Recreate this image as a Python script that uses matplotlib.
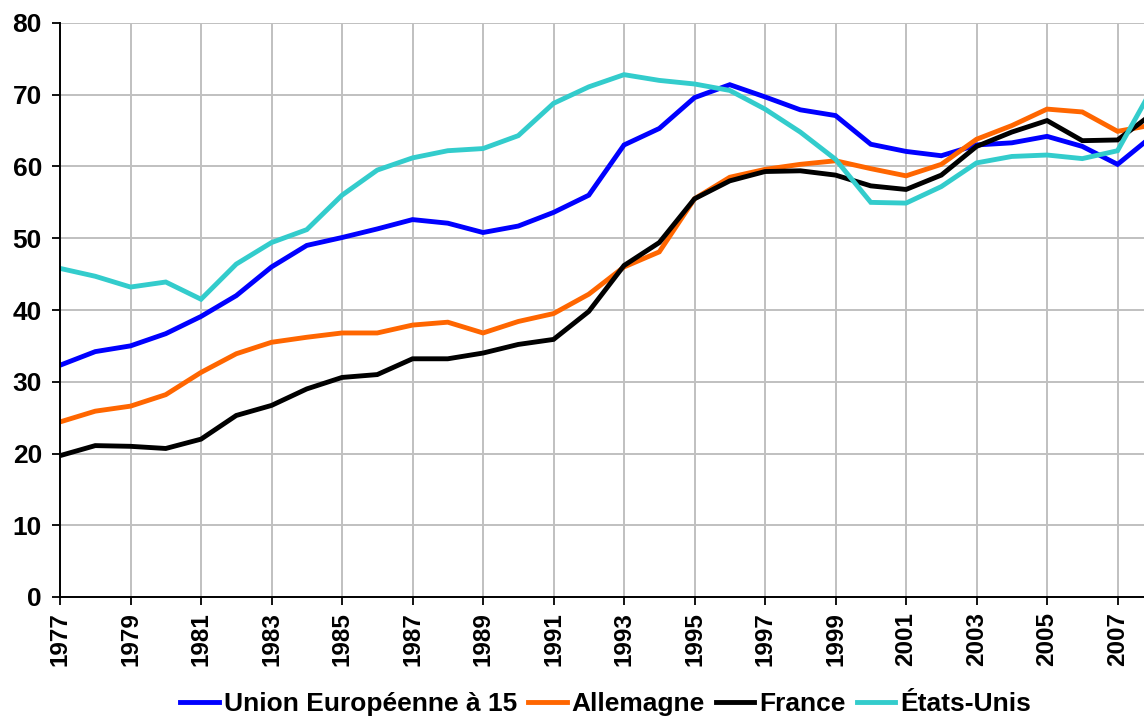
import matplotlib
matplotlib.use("Agg")
import matplotlib.pyplot as plt

# years and series
years = list(range(1977, 2009))

ue15 = [32.3, 34.2, 35.0, 36.7, 39.1, 42.0, 46.0, 49.0, 50.1, 51.3,
        52.6, 52.1, 50.8, 51.7, 53.6, 56.0, 63.0, 65.3, 69.6, 71.4,
        69.7, 67.9, 67.1, 63.1, 62.1, 61.5, 63.0, 63.3, 64.2, 62.8,
        60.3, 64.3]
allemagne = [24.4, 25.9, 26.6, 28.2, 31.3, 33.9, 35.5, 36.2, 36.8, 36.8,
             37.9, 38.3, 36.8, 38.4, 39.5, 42.2, 46.0, 48.1, 55.5, 58.5,
             59.6, 60.3, 60.8, 59.7, 58.7, 60.3, 63.8, 65.7, 68.0, 67.6,
             64.9, 65.8]
france = [19.7, 21.1, 21.0, 20.7, 22.0, 25.3, 26.7, 29.0, 30.6, 31.0,
          33.2, 33.2, 34.0, 35.2, 35.9, 39.8, 46.2, 49.4, 55.5, 58.0,
          59.3, 59.4, 58.8, 57.3, 56.8, 58.8, 62.8, 64.8, 66.4, 63.6,
          63.7, 67.4]
etats_unis = [45.8, 44.7, 43.2, 43.9, 41.5, 46.4, 49.4, 51.2, 56.0, 59.5,
              61.2, 62.2, 62.5, 64.3, 68.8, 71.1, 72.8, 72.0, 71.5, 70.6,
              68.0, 64.8, 61.0, 55.0, 54.9, 57.2, 60.5, 61.4, 61.6, 61.1,
              62.2, 71.0]

labels = ["Union Européenne à 15", "Allemagne", "France", "États-Unis"]
colors = ["#0000ff", "#ff6600", "#000000", "#33cccc"]

plt.rcParams['font.family'] = ['Liberation Sans', 'DejaVu Sans']
plt.rcParams['font.weight'] = 'bold'

fig = plt.figure(figsize=(11.44, 7.17), dpi=100)
ax = fig.add_axes([60 / 1144, 1 - 597 / 717, 1 - 60 / 1144, (597 - 23) / 717])

for s, lab, c in zip([ue15, allemagne, france, etats_unis], labels, colors):
    ax.plot(years, s, color=c, lw=3.5, label=lab, solid_joinstyle='miter')

ax.set_xlim(1977, 2007.75)
ax.set_ylim(0, 80)
ax.set_yticks(range(0, 81, 10))
ax.set_xticks(range(1977, 2008, 2))
ax.set_xticklabels([str(y) for y in range(1977, 2008, 2)], rotation=90)
ax.tick_params(axis='both', direction='out', length=6, width=1.3)
ax.tick_params(axis='y', labelsize=19, pad=7)
ax.tick_params(axis='x', labelsize=17.5, pad=5)
for lbl in ax.get_xticklabels() + ax.get_yticklabels():
    lbl.set_fontweight('bold')

ax.grid(True, color='#c0c0c0', lw=1.4)
ax.set_axisbelow(True)
for side in ['top', 'right']:
    ax.spines[side].set_visible(False)
for side in ['left', 'bottom']:
    ax.spines[side].set_linewidth(1.4)
    ax.spines[side].set_zorder(3)

fig.legend(loc='center', bbox_to_anchor=(606 / 1144, 1 - 704 / 717), ncol=4,
           frameon=False, prop={'size': 19, 'weight': 'bold'},
           handlelength=1.45, handletextpad=0.2, columnspacing=0.42,
           borderpad=0, borderaxespad=0)

fig.savefig("out.png", dpi=100)
